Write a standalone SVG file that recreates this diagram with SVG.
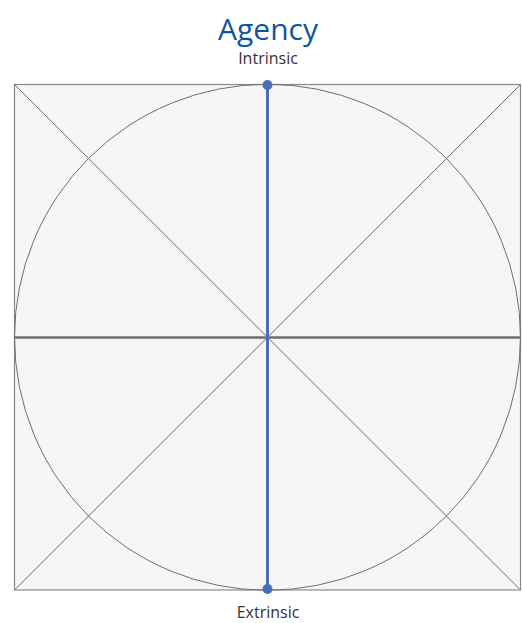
<svg xmlns="http://www.w3.org/2000/svg" width="522" height="623" viewBox="0 0 522 623">
<style>
.thin{stroke:#6e6e6e;stroke-width:1;fill:none}
.lbl{font-family:"Open Sans","Liberation Sans",sans-serif;fill:#333;text-anchor:middle;font-size:16px}
.title{font-family:"Open Sans","Liberation Sans",sans-serif;fill:#0f56a0;text-anchor:middle;font-size:30px}
.dot{fill:#4a6fb5}
</style>
<rect width="522" height="623" fill="#ffffff"/>
<g id="frame">
<rect x="14.5" y="84.5" width="506" height="505.5" fill="#f5f6f5" stroke="#8a8a8a" stroke-width="1.2"/>
<circle cx="267.5" cy="337.25" r="253" class="thin"/>
</g>
<g id="connectors">
<line x1="14.5" y1="84.5" x2="520.5" y2="590" class="thin"/>
<line x1="520.5" y1="84.5" x2="14.5" y2="590" class="thin"/>
<line x1="14.5" y1="337.5" x2="520.5" y2="337.5" stroke="#6e6e6e" stroke-width="2.5"/>
<line x1="267.5" y1="85" x2="267.5" y2="589" stroke="#4a6fb5" stroke-width="3"/>
</g>
<g id="intrinsic">
<circle cx="267.5" cy="85" r="5" class="dot"/>
<text x="268" y="64" class="lbl">Intrinsic</text>
</g>
<g id="extrinsic">
<circle cx="267.5" cy="589" r="5" class="dot"/>
<text x="268" y="618" class="lbl">Extrinsic</text>
</g>
<g id="title">
<text x="268" y="40" class="title">Agency</text>
</g>
</svg>
